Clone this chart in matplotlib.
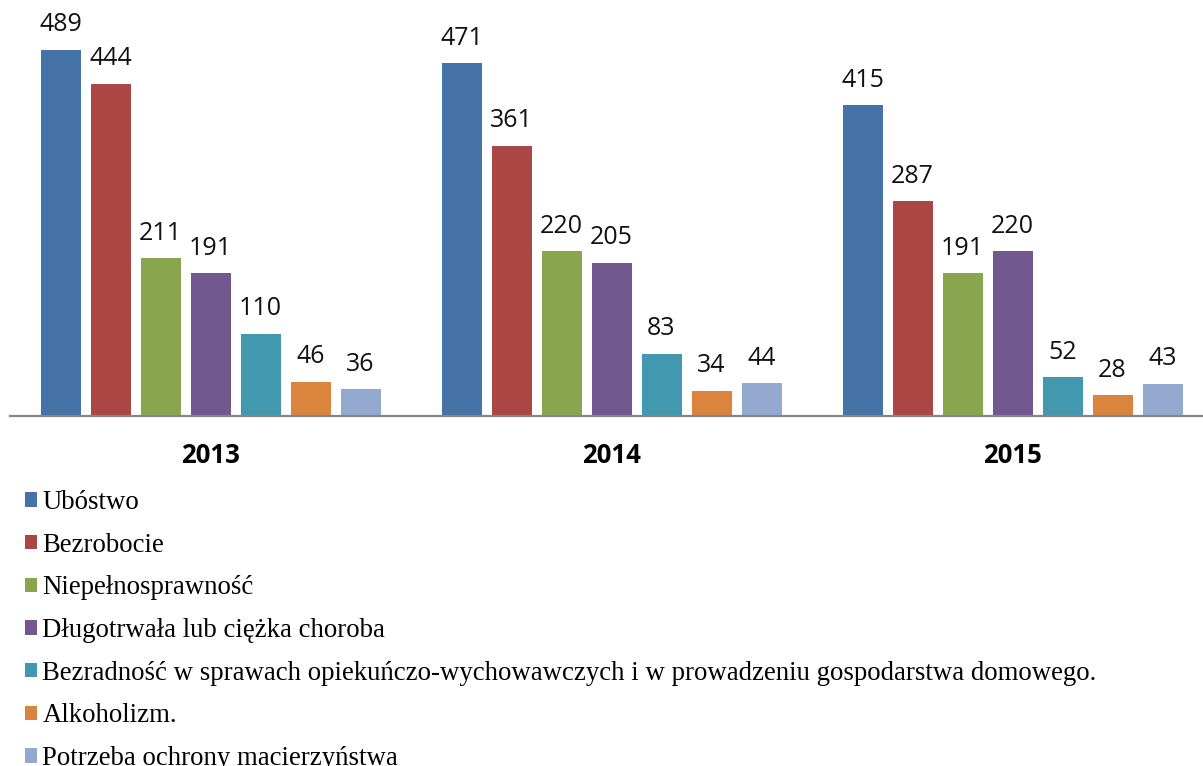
import matplotlib
matplotlib.use("Agg")
from matplotlib import pyplot as plt
import numpy as np

years = ["2013", "2014", "2015"]
categories = [
    "Ubóstwo",
    "Bezrobocie",
    "Niepełnosprawność",
    "Długotrwała lub ciężka choroba",
    "Bezradność w sprawach opiekuńczo-wychowawczych i w prowadzeniu gospodarstwa domowego.",
    "Alkoholizm.",
    "Potrzeba ochrony macierzyństwa",
]
values = {
    "Ubóstwo": [489, 471, 415],
    "Bezrobocie": [444, 361, 287],
    "Niepełnosprawność": [211, 220, 191],
    "Długotrwała lub ciężka choroba": [191, 205, 220],
    "Bezradność w sprawach opiekuńczo-wychowawczych i w prowadzeniu gospodarstwa domowego.": [110, 83, 52],
    "Alkoholizm.": [46, 34, 28],
    "Potrzeba ochrony macierzyństwa": [36, 44, 43],
}
colors = ["#4572A7", "#AA4643", "#89A54E", "#71588F", "#4198AF", "#DB843D", "#93A9CF"]

W, H = 1203, 766
fig = plt.figure(figsize=(W / 100, H / 100), dpi=100)
ax = fig.add_axes([10 / W, (H - 416) / H, 1193 / W, 416 / H])

x = np.arange(len(years))
pitch = 50 / 401
width = 40 / 401
handles = []
for j, (cat, col) in enumerate(zip(categories, colors)):
    pos = x + (j - 3) * pitch
    b = ax.bar(pos, values[cat], width=width, color=col, label=cat, zorder=2)
    handles.append(b)
    for xp, v in zip(pos, values[cat]):
        ax.annotate(str(v), (xp, v), xytext=(0, 9), textcoords="offset points",
                    ha="center", va="bottom", fontsize=18, family="Open Sans",
                    color="#111111")

ax.set_xlim(-0.5, -0.5 + 1193 / 401)
ax.set_ylim(0, 416 / 0.7485)
ax.set_yticks([])
ax.set_xticks(x)
ax.set_xticklabels(years, fontsize=18.5, fontweight="bold", family="Open Sans")
ax.tick_params(axis="x", length=0, pad=19)
for s in ["top", "left", "right"]:
    ax.spines[s].set_visible(False)
ax.spines["bottom"].set_color("#868686")
ax.spines["bottom"].set_linewidth(1.6)
ax.spines["bottom"].set_zorder(3)

fig.legend(handles=handles, labels=categories, loc="upper left",
           bbox_to_anchor=(25 / W, 1 - 490 / H), frameon=False, ncol=1,
           prop={"family": "Liberation Serif", "size": 19.3},
           handlelength=0.45, handleheight=0.45, handletextpad=0.2,
           labelspacing=0.66, borderpad=0, borderaxespad=0)

fig.savefig("out.png", dpi=100)
